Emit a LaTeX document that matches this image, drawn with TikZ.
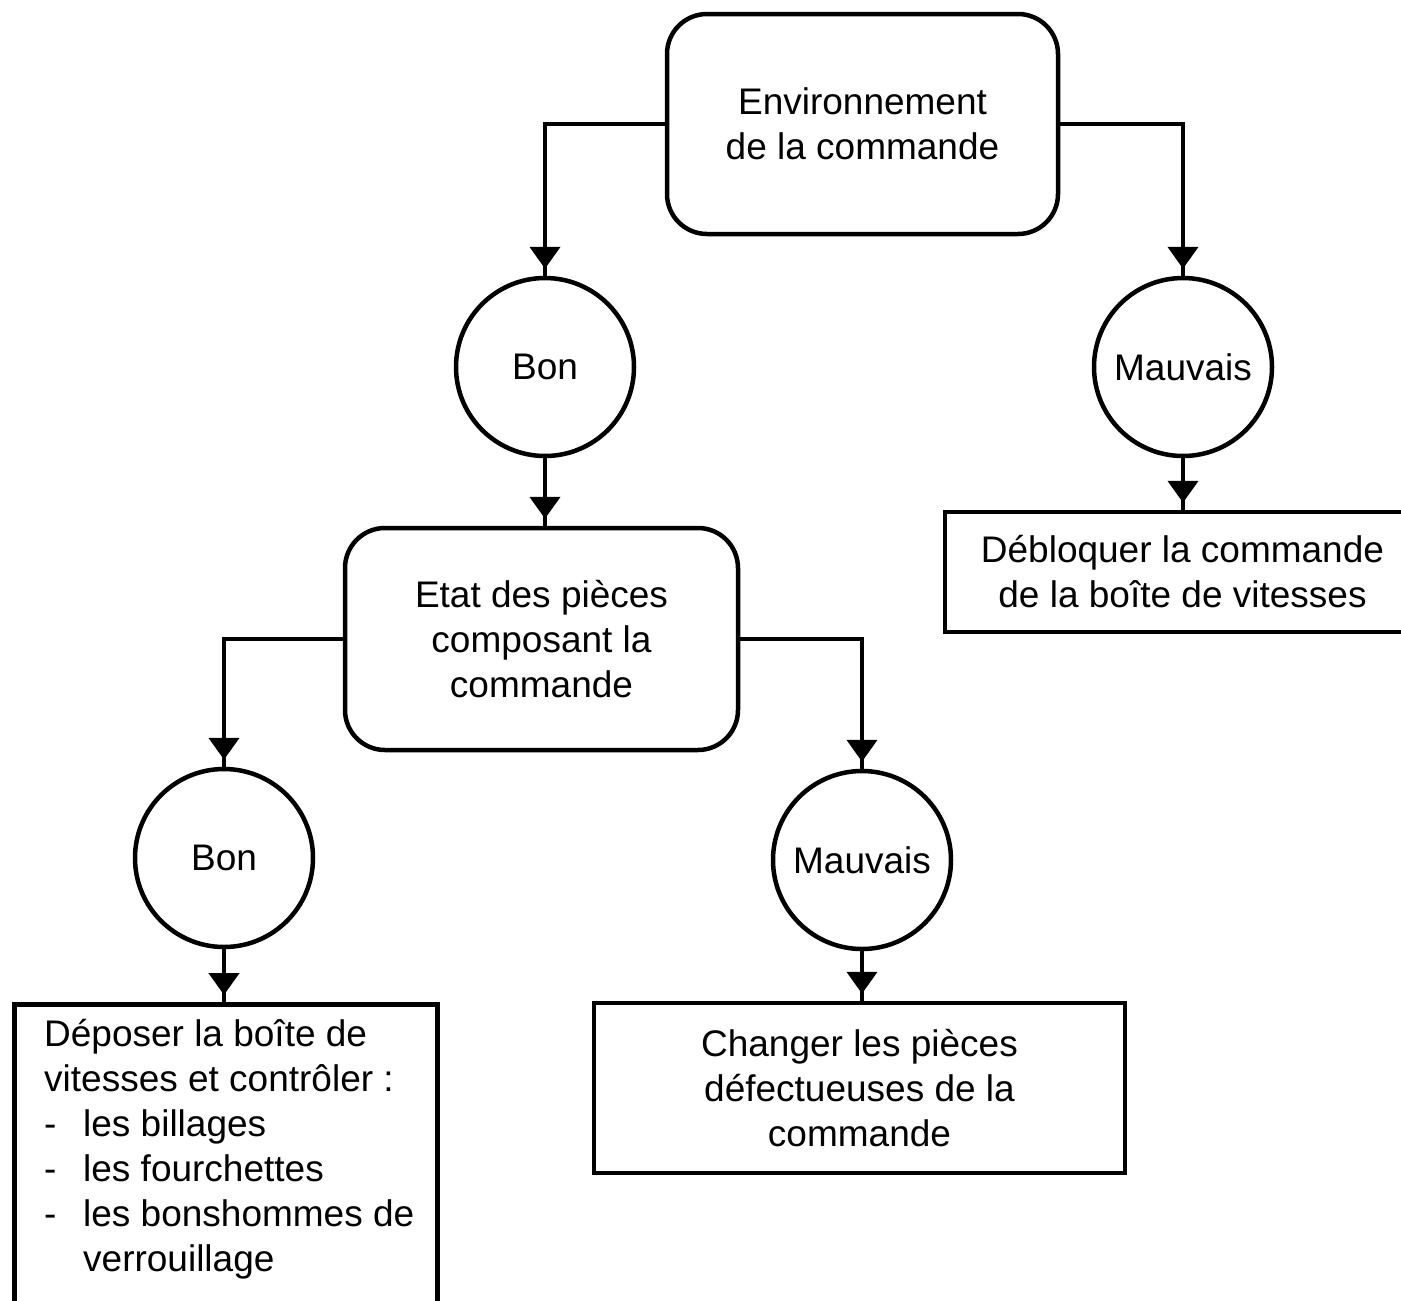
\documentclass[tikz,border=0pt]{standalone}
\usepackage{fontspec}
\setmainfont{Liberation Sans}
\usetikzlibrary{arrows.meta,calc}
\begin{document}
\begin{tikzpicture}[x=1pt,y=-1pt,
  every node/.style={font=\fontsize{37}{45}\selectfont},
  frame/.style={draw=black,line width=4.5pt,fill=white},
  rbox/.style={frame,rectangle,rounded corners=40pt,align=center,inner sep=0pt},
  sbox/.style={frame,rectangle,align=center,inner sep=0pt},
  ring/.style={frame,circle,minimum size=178pt,inner sep=0pt},
  conn/.style={line width=4.5pt,-{Triangle[length=22pt,width=30pt]Rectangle[length=7pt,width=4.5pt]}}
]
\useasboundingbox (0,0) rectangle (1401,1301);
\clip (0,0) rectangle (1401,1301);
\fill[white] (0,0) rectangle (1401,1301);

\node[rbox,minimum width=391pt,minimum height=220pt] (env) at (862.5,124) {Environnement\\de la commande};
\node[ring] (bon1) at (545,367) {Bon};
\node[ring] (mau1) at (1183,367) {Mauvais};
\node[rbox,minimum width=393pt,minimum height=222pt] (etat) at (541.5,639) {Etat des pi\`eces\\composant la\\commande};
\node[ring] (bon2) at (224,858) {Bon};
\node[ring] (mau2) at (862,860) {Mauvais};
\node[sbox,minimum width=475pt,minimum height=120pt] (deb) at (1182.5,572) {D\'ebloquer la commande\\de la bo\^ite de vitesses};
\node[sbox,minimum width=531pt,minimum height=170pt] (chg) at (859.5,1088) {Changer les pi\`eces\\d\'efectueuses de la\\commande};
\node[sbox,minimum width=423pt,minimum height=330pt,anchor=north west] (depo) at (12,1002) {};
\node[anchor=north west,align=left,inner sep=0pt] (depotxt) at ($(depo.north west)+(32,17)$)
  {D\'eposer la bo\^ite de\\
   vitesses et contr\^oler :\\
   \makebox[39pt][l]{-}les billages\\
   \makebox[39pt][l]{-}les fourchettes\\
   \makebox[39pt][l]{-}les bonshommes de\\
   \hspace*{39pt}verrouillage};

\draw[conn] (env.west) -| (bon1.north);
\draw[conn] (env.east) -| (mau1.north);
\draw[conn] (bon1.south) -- (bon1.south |- etat.north);
\draw[conn] (etat.west) -| (bon2.north);
\draw[conn] (etat.east) -| (mau2.north);
\draw[conn] (mau1.south) -- (mau1.south |- deb.north);
\draw[conn] (bon2.south) -- (bon2.south |- depo.north);
\draw[conn] (mau2.south) -- (mau2.south |- chg.north);
\end{tikzpicture}
\end{document}
